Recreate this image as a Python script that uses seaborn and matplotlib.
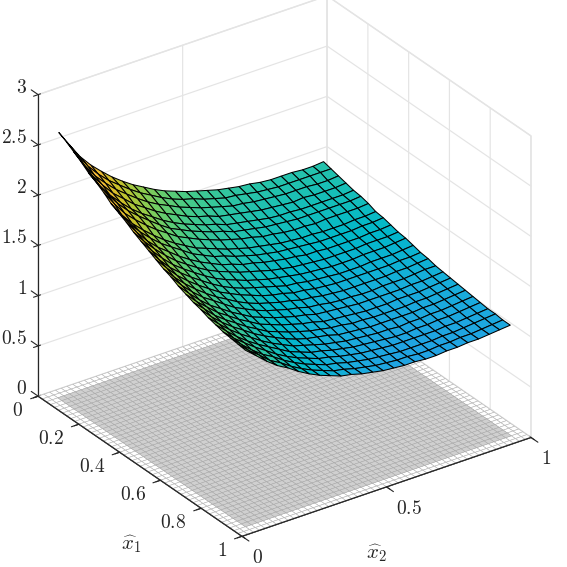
import numpy as np
import matplotlib
matplotlib.use('Agg')
import matplotlib.pyplot as plt
import seaborn as sns

# surface nodes, rows follow x1, columns follow x2
x1_vals = [0.042, 0.079, 0.115, 0.152, 0.189, 0.225, 0.262, 0.298, 0.335, 0.372, 0.408, 0.445, 0.482,
           0.518, 0.555, 0.592, 0.628, 0.665, 0.702, 0.738, 0.775, 0.811, 0.848, 0.885, 0.921, 0.958]
x2_vals = list(x1_vals)
z_vals = [
    [2.64, 2.48, 2.33, 2.21, 2.11, 2.02, 1.94, 1.87, 1.81, 1.75, 1.70, 1.66, 1.62, 1.59, 1.56, 1.53, 1.51, 1.49, 1.48, 1.46, 1.45, 1.45, 1.45, 1.44, 1.44, 1.45],
    [2.60, 2.44, 2.29, 2.17, 2.07, 1.99, 1.91, 1.84, 1.78, 1.72, 1.67, 1.63, 1.60, 1.56, 1.53, 1.50, 1.49, 1.47, 1.45, 1.44, 1.43, 1.43, 1.43, 1.43, 1.43, 1.43],
    [2.55, 2.38, 2.24, 2.13, 2.03, 1.95, 1.87, 1.80, 1.74, 1.69, 1.64, 1.60, 1.56, 1.53, 1.50, 1.47, 1.46, 1.44, 1.43, 1.42, 1.41, 1.41, 1.41, 1.40, 1.40, 1.41],
    [2.50, 2.33, 2.20, 2.08, 1.99, 1.90, 1.83, 1.76, 1.70, 1.65, 1.60, 1.56, 1.53, 1.49, 1.47, 1.45, 1.43, 1.41, 1.40, 1.39, 1.38, 1.39, 1.38, 1.38, 1.38, 1.39],
    [2.44, 2.28, 2.15, 2.04, 1.94, 1.86, 1.79, 1.72, 1.66, 1.61, 1.57, 1.53, 1.50, 1.46, 1.44, 1.42, 1.40, 1.38, 1.37, 1.37, 1.36, 1.36, 1.36, 1.36, 1.36, 1.37],
    [2.40, 2.25, 2.12, 2.01, 1.92, 1.84, 1.76, 1.69, 1.64, 1.59, 1.55, 1.51, 1.48, 1.44, 1.42, 1.40, 1.38, 1.37, 1.36, 1.35, 1.35, 1.35, 1.35, 1.35, 1.35, 1.36],
    [2.35, 2.20, 2.07, 1.97, 1.88, 1.80, 1.73, 1.66, 1.61, 1.56, 1.52, 1.48, 1.45, 1.42, 1.40, 1.37, 1.36, 1.34, 1.33, 1.33, 1.32, 1.33, 1.33, 1.33, 1.33, 1.34],
    [2.29, 2.14, 2.02, 1.92, 1.83, 1.75, 1.68, 1.62, 1.56, 1.52, 1.48, 1.44, 1.41, 1.38, 1.36, 1.34, 1.32, 1.31, 1.30, 1.30, 1.29, 1.29, 1.29, 1.30, 1.30, 1.31],
    [2.25, 2.11, 1.99, 1.89, 1.80, 1.73, 1.66, 1.59, 1.54, 1.49, 1.46, 1.42, 1.39, 1.36, 1.34, 1.32, 1.31, 1.30, 1.29, 1.28, 1.28, 1.28, 1.28, 1.29, 1.29, 1.30],
    [2.21, 2.07, 1.95, 1.85, 1.77, 1.69, 1.62, 1.56, 1.51, 1.46, 1.43, 1.39, 1.37, 1.34, 1.32, 1.30, 1.29, 1.27, 1.27, 1.26, 1.26, 1.26, 1.26, 1.27, 1.27, 1.28],
    [2.16, 2.03, 1.92, 1.82, 1.73, 1.66, 1.59, 1.53, 1.48, 1.44, 1.40, 1.37, 1.34, 1.31, 1.29, 1.27, 1.26, 1.25, 1.24, 1.24, 1.24, 1.24, 1.25, 1.25, 1.25, 1.26],
    [2.12, 1.99, 1.88, 1.78, 1.70, 1.63, 1.56, 1.50, 1.45, 1.41, 1.37, 1.34, 1.31, 1.29, 1.27, 1.25, 1.24, 1.23, 1.22, 1.22, 1.22, 1.23, 1.23, 1.23, 1.24, 1.25],
    [2.08, 1.95, 1.84, 1.75, 1.67, 1.60, 1.53, 1.47, 1.42, 1.38, 1.35, 1.32, 1.29, 1.26, 1.25, 1.23, 1.22, 1.21, 1.20, 1.20, 1.20, 1.21, 1.21, 1.21, 1.22, 1.23],
    [2.04, 1.92, 1.81, 1.72, 1.64, 1.57, 1.50, 1.45, 1.40, 1.36, 1.32, 1.29, 1.27, 1.24, 1.23, 1.21, 1.20, 1.19, 1.19, 1.19, 1.19, 1.19, 1.19, 1.20, 1.20, 1.21],
    [2.00, 1.88, 1.78, 1.69, 1.61, 1.54, 1.48, 1.42, 1.37, 1.33, 1.30, 1.27, 1.25, 1.22, 1.21, 1.19, 1.18, 1.17, 1.17, 1.17, 1.17, 1.17, 1.18, 1.18, 1.19, 1.20],
    [1.97, 1.85, 1.75, 1.66, 1.59, 1.52, 1.45, 1.40, 1.35, 1.31, 1.28, 1.25, 1.23, 1.20, 1.19, 1.17, 1.16, 1.16, 1.15, 1.15, 1.16, 1.16, 1.16, 1.17, 1.18, 1.18],
    [1.93, 1.82, 1.72, 1.63, 1.56, 1.49, 1.43, 1.37, 1.33, 1.29, 1.26, 1.23, 1.21, 1.18, 1.17, 1.16, 1.15, 1.14, 1.14, 1.14, 1.14, 1.14, 1.15, 1.15, 1.16, 1.17],
    [1.90, 1.79, 1.70, 1.61, 1.54, 1.47, 1.41, 1.35, 1.31, 1.27, 1.24, 1.21, 1.19, 1.16, 1.15, 1.14, 1.13, 1.12, 1.12, 1.12, 1.13, 1.13, 1.13, 1.14, 1.15, 1.16],
    [1.87, 1.77, 1.67, 1.59, 1.52, 1.45, 1.39, 1.33, 1.29, 1.25, 1.22, 1.19, 1.17, 1.15, 1.14, 1.12, 1.12, 1.11, 1.11, 1.11, 1.11, 1.12, 1.12, 1.13, 1.14, 1.15],
    [1.85, 1.74, 1.65, 1.57, 1.50, 1.43, 1.37, 1.32, 1.27, 1.23, 1.20, 1.18, 1.16, 1.13, 1.12, 1.11, 1.10, 1.10, 1.10, 1.10, 1.10, 1.11, 1.11, 1.12, 1.13, 1.14],
    [1.82, 1.72, 1.63, 1.55, 1.48, 1.41, 1.35, 1.30, 1.25, 1.22, 1.19, 1.16, 1.14, 1.12, 1.11, 1.10, 1.09, 1.09, 1.08, 1.09, 1.09, 1.10, 1.10, 1.11, 1.12, 1.13],
    [1.80, 1.70, 1.61, 1.53, 1.46, 1.40, 1.34, 1.28, 1.24, 1.20, 1.18, 1.15, 1.13, 1.11, 1.10, 1.09, 1.08, 1.07, 1.07, 1.08, 1.08, 1.09, 1.09, 1.10, 1.11, 1.12],
    [1.78, 1.68, 1.60, 1.52, 1.45, 1.38, 1.32, 1.27, 1.23, 1.19, 1.17, 1.14, 1.12, 1.10, 1.09, 1.08, 1.07, 1.07, 1.07, 1.07, 1.07, 1.08, 1.08, 1.09, 1.10, 1.11],
    [1.77, 1.67, 1.58, 1.50, 1.44, 1.37, 1.31, 1.26, 1.22, 1.18, 1.16, 1.13, 1.11, 1.09, 1.08, 1.07, 1.06, 1.06, 1.06, 1.06, 1.07, 1.07, 1.08, 1.09, 1.10, 1.11],
    [1.76, 1.66, 1.58, 1.49, 1.43, 1.36, 1.30, 1.25, 1.21, 1.17, 1.15, 1.12, 1.10, 1.08, 1.07, 1.06, 1.06, 1.05, 1.05, 1.06, 1.06, 1.07, 1.07, 1.08, 1.09, 1.10],
    [1.75, 1.66, 1.57, 1.49, 1.43, 1.36, 1.30, 1.25, 1.21, 1.17, 1.15, 1.12, 1.10, 1.08, 1.07, 1.06, 1.06, 1.05, 1.05, 1.06, 1.06, 1.07, 1.07, 1.08, 1.09, 1.10],
]

x1_ticks = [0, 0.2, 0.4, 0.6, 0.8, 1]
x1_labels = ['$0$', '$0.2$', '$0.4$', '$0.6$', '$0.8$', '$1$']
x2_ticks = [0, 0.5, 1]
x2_labels = ['$0$', '$0.5$', '$1$']
z_ticks = [0, 0.5, 1, 1.5, 2, 2.5, 3]
z_labels = ['$0$', '$0.5$', '$1$', '$1.5$', '$2$', '$2.5$', '$3$']

# parula stops
parula = [(0.2422, 0.1504, 0.6603), (0.2647, 0.1978, 0.7952), (0.2783, 0.2559, 0.8991), (0.2810, 0.3228, 0.9579),
          (0.2699, 0.3892, 0.9906), (0.2206, 0.4603, 0.9973), (0.1834, 0.5074, 0.9798), (0.1687, 0.5703, 0.9359),
          (0.1380, 0.6276, 0.8973), (0.0952, 0.6798, 0.8598), (0.0036, 0.7203, 0.7917), (0.0964, 0.7500, 0.7120),
          (0.1938, 0.7758, 0.6251), (0.2906, 0.7973, 0.5188), (0.4456, 0.8024, 0.3909), (0.6174, 0.7876, 0.2612),
          (0.7738, 0.7598, 0.1646), (0.9035, 0.7330, 0.1774), (0.9956, 0.7434, 0.2371), (0.9892, 0.8136, 0.1885),
          (0.9610, 0.8890, 0.1537), (0.9769, 0.9839, 0.0805)]

sns.set_style('white')
plt.rcParams['mathtext.fontset'] = 'cm'
text_col = '#262626'
grid_col = '#e4e4e4'
cmap = sns.blend_palette(parula, as_cmap=True)

fig = plt.figure(figsize=(5.67, 5.67), dpi=100)
ax = fig.add_axes([-6.6 / 567, 9.8 / 567, 1, 1], projection='3d', proj_type='ortho', computed_zorder=False)
ax.view_init(elev=29, azim=-35.2)
ax.set_box_aspect((1, 1, 0.975), zoom=1.04)
ax.set_xlim(0, 1)
ax.set_ylim(0, 1)
ax.set_zlim(0, 3)

# grey projection on the floor
floor = np.linspace(0, 1, 51)
fx, fy = np.meshgrid(floor, floor, indexing='ij')
ax.plot_surface(fx, fy, np.zeros_like(fx), rstride=1, cstride=1, color='white',
                edgecolor='#b4b4b4', linewidth=0.4, shade=False, zorder=1)
inner = floor[2:-2]
ix, iy = np.meshgrid(inner, inner, indexing='ij')
ax.plot_surface(ix, iy, np.zeros_like(ix), rstride=1, cstride=1, color='#d0d0d0',
                edgecolor='#a8a8a8', linewidth=0.35, shade=False, zorder=2)

# main surface
X, Y = np.meshgrid(x1_vals, x2_vals, indexing='ij')
ax.plot_surface(X, Y, np.array(z_vals), rstride=1, cstride=1, cmap=cmap, vmin=0.05, vmax=2.6,
                edgecolor='black', linewidth=0.75, shade=False, zorder=5)

ax.set_xticks(x1_ticks, labels=[''] * len(x1_ticks))
ax.set_yticks(x2_ticks, labels=[''] * len(x2_ticks))
ax.set_zticks(z_ticks, labels=[''] * len(z_ticks))
ax.zaxis.set_ticks_position('lower')

for axis in (ax.xaxis, ax.yaxis, ax.zaxis):
    axis.set_pane_color((1, 1, 1, 1))
    axis.pane.set_edgecolor(grid_col)
    axis._axinfo['grid'].update(color=grid_col, linewidth=0.85)
    axis.line.set_color(text_col)
    axis.line.set_linewidth(0.9)
    axis.set_tick_params(tick1On=False, tick2On=False)
    for lab in axis.get_ticklabels():
        lab.set_visible(False)
    axis.label.set_visible(False)
    axis.get_offset_text().set_visible(False)

# front axis lines and tick marks go over the floor mesh
ax.plot([x1_ticks[0], x1_ticks[-1]], [0, 0], [0, 0], color=text_col, lw=0.9, zorder=3)
ax.plot([1, 1], [x2_ticks[0], x2_ticks[-1]], [0, 0], color=text_col, lw=0.9, zorder=3)
for t in x1_ticks:
    ax.plot([t, t], [0, -0.026], [0, 0], color=text_col, lw=0.8, zorder=3)
for t in x2_ticks:
    ax.plot([1, 1.034], [t, t], [0, 0], color=text_col, lw=0.8, zorder=3)
for t in z_ticks:
    ax.plot([0, -0.034], [0, 0], [t, t], color=text_col, lw=0.8, zorder=3)

for t, lab in zip(x1_ticks, x1_labels):
    ax.text(t + 0.045, -0.083, 0, lab, ha='right', va='center', fontsize=14, color=text_col)
for t, lab in zip(x2_ticks, x2_labels):
    ax.text(1.118, t - 0.049, 0, lab, ha='left', va='center', fontsize=14, color=text_col)
for t, lab in zip(z_ticks, z_labels):
    ax.text(-0.054, 0, t, lab, ha='right', va='center', fontsize=14, color=text_col)

fig.text(131 / 567, 1 - 544 / 567, r'$\widehat{x}_1$', ha='center', va='center', fontsize=15, color=text_col)
fig.text(377 / 567, 1 - 553 / 567, r'$\widehat{x}_2$', ha='center', va='center', fontsize=15, color=text_col)

fig.savefig('out.png', dpi=100)
